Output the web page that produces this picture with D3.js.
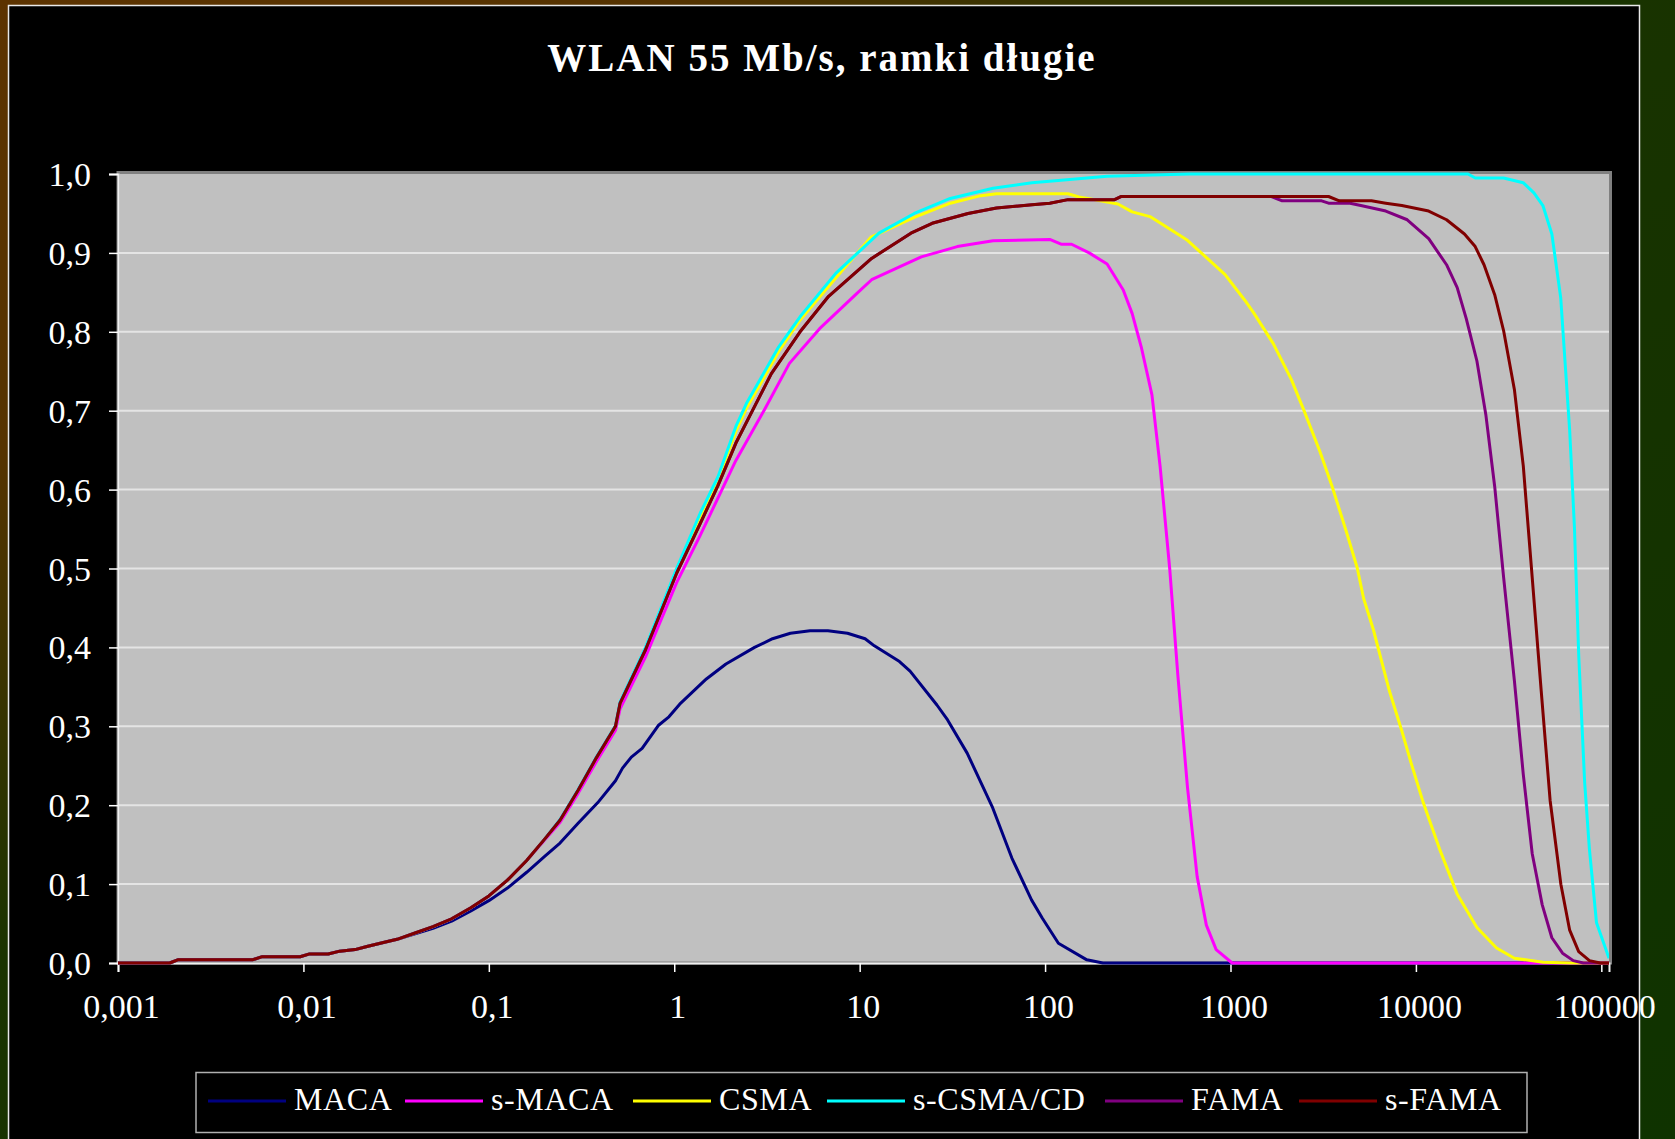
<!DOCTYPE html>
<html lang="pl">
  <head>
    <meta charset="utf-8">
    <title>WLAN 55 Mb/s, ramki długie</title>
    <style>
      body { margin: 0; background: #000; }
      svg { display: block; font-family: "Liberation Serif", "Times New Roman", serif; }
    </style>
    <script src="https://d3js.org/d3.v7.min.js"></script>
  </head>
  <body>
    <div id="viz"></div>
    <script>

    // ---- data ----
    var seriesNames = ['MACA', 's-MACA', 'CSMA', 's-CSMA/CD', 'FAMA', 's-FAMA'];
    var seriesColors = ['#000080', '#ff00ff', '#ffff00', '#00ffff', '#800080', '#800000'];

    // low end where all curves coincide
    var lowX = [0.001, 0.0019, 0.0021, 0.0053, 0.006, 0.0096, 0.0108, 0.0136, 0.0157, 0.019, 0.022, 0.027, 0.032];
    var lowY = [0, 0, 0.004, 0.004, 0.008, 0.008, 0.0115, 0.0115, 0.015, 0.017, 0.021, 0.026, 0.03];

    var macaX = [0.04, 0.05, 0.063, 0.08, 0.1, 0.126, 0.16, 0.2, 0.242, 0.303, 0.386, 0.482, 0.526, 0.587, 0.671, 0.82, 0.936, 1.07, 1.49, 1.9, 2.71, 3.39, 4.23, 5.4, 6.74, 8.6, 10.7, 12, 16.4, 18.7, 26.1, 29.8, 38, 51.9, 66.2, 84.5, 96.5, 118, 168, 205, 110000];
    var macaY = [0.037, 0.044, 0.053, 0.066, 0.079, 0.095, 0.115, 0.135, 0.152, 0.177, 0.203, 0.231, 0.247, 0.261, 0.272, 0.301, 0.312, 0.328, 0.36, 0.379, 0.4, 0.411, 0.418, 0.421, 0.421, 0.418, 0.411, 0.402, 0.382, 0.37, 0.327, 0.308, 0.266, 0.198, 0.133, 0.08, 0.057, 0.025, 0.004, 0, 0];

    var smacaX = [0.04, 0.05, 0.063, 0.08, 0.1, 0.126, 0.16, 0.2, 0.242, 0.303, 0.38, 0.482, 0.51, 0.7, 1.03, 1.38, 2.15, 3.06, 4.18, 6.08, 9.7, 11.6, 16.5, 21.5, 33.6, 52.4, 106, 122, 139, 173, 216, 264, 295, 330, 377, 417, 470, 520, 586, 661, 741, 837, 1021, 110000];
    var smacaY = [0.038, 0.046, 0.056, 0.07, 0.085, 0.105, 0.13, 0.156, 0.178, 0.215, 0.255, 0.295, 0.322, 0.388, 0.482, 0.542, 0.637, 0.701, 0.76, 0.804, 0.849, 0.866, 0.8825, 0.895, 0.908, 0.9155, 0.917, 0.911, 0.911, 0.9, 0.886, 0.853, 0.823, 0.781, 0.72, 0.63, 0.5, 0.365, 0.223, 0.1095, 0.048, 0.017, 0, 0];

    var csmaX = [0.04, 0.05, 0.063, 0.08, 0.1, 0.126, 0.16, 0.2, 0.242, 0.303, 0.38, 0.482, 0.51, 0.7, 1.03, 1.38, 1.72, 2.15, 2.45, 3.66, 4.77, 7.43, 11.5, 19.7, 30.8, 43.9, 54.7, 133, 152, 189, 247, 295, 368, 586, 935, 1194, 1334, 1701, 2125, 2483, 3029, 3533, 4225, 4823, 5225, 5888, 7192, 8398, 9380, 10965, 13389, 16711, 21331, 27218, 33986, 48500, 69200, 110000];
    var csmaY = [0.038, 0.046, 0.056, 0.07, 0.085, 0.105, 0.13, 0.157, 0.181, 0.219, 0.26, 0.3, 0.329, 0.398, 0.498, 0.566, 0.612, 0.674, 0.703, 0.775, 0.815, 0.868, 0.92, 0.945, 0.963, 0.972, 0.975, 0.975, 0.971, 0.967, 0.962, 0.952, 0.946, 0.916, 0.8725, 0.84, 0.824, 0.785, 0.74, 0.701, 0.649, 0.604, 0.546, 0.501, 0.462, 0.423, 0.345, 0.294, 0.255, 0.203, 0.145, 0.087, 0.045, 0.019, 0.006, 0.001, 0, 0];

    var scsmaX = [0.04, 0.05, 0.063, 0.08, 0.1, 0.126, 0.16, 0.2, 0.242, 0.303, 0.38, 0.482, 0.51, 0.7, 1.03, 1.38, 1.72, 2.15, 2.45, 3.66, 4.77, 7.43, 12.7, 19.7, 30.8, 52.4, 85, 122, 216, 600, 19100, 20900, 29700, 37900, 43300, 48400, 54100, 60400, 67500, 71600, 75500, 81300, 86200, 94200, 110000];
    var scsmaY = [0.038, 0.046, 0.056, 0.07, 0.085, 0.105, 0.13, 0.157, 0.182, 0.22, 0.261, 0.301, 0.331, 0.4, 0.5, 0.57, 0.616, 0.68, 0.709, 0.781, 0.819, 0.874, 0.925, 0.95, 0.969, 0.982, 0.989, 0.992, 0.997, 1, 1, 0.995, 0.995, 0.989, 0.976, 0.96, 0.924, 0.843, 0.675, 0.5525, 0.391, 0.229, 0.145, 0.051, 0.006];

    var famaX = [0.04, 0.05, 0.063, 0.08, 0.1, 0.126, 0.16, 0.2, 0.242, 0.303, 0.38, 0.482, 0.51, 0.7, 1.03, 1.38, 1.72, 2.15, 3.34, 4.77, 6.8, 11.6, 18.9, 24.6, 38.4, 54.7, 85, 106, 133, 237, 258, 1663, 1900, 3100, 3380, 4415, 5045, 6879, 8980, 11720, 14630, 16700, 18670, 21330, 23830, 26600, 29740, 33970, 37940, 42400, 47970, 54100, 61800, 70600, 80000, 110000];
    var famaY = [0.038, 0.046, 0.056, 0.07, 0.085, 0.105, 0.13, 0.157, 0.181, 0.219, 0.26, 0.3, 0.329, 0.397, 0.494, 0.557, 0.605, 0.659, 0.747, 0.8, 0.845, 0.893, 0.925, 0.9375, 0.95, 0.957, 0.961, 0.963, 0.9675, 0.9675, 0.9715, 0.9715, 0.966, 0.966, 0.963, 0.963, 0.96, 0.953, 0.942, 0.918, 0.885, 0.856, 0.817, 0.763, 0.695, 0.604, 0.488, 0.358, 0.239, 0.1385, 0.074, 0.032, 0.0124, 0.003, 0, 0];

    var sfamaX = [0.04, 0.05, 0.063, 0.08, 0.1, 0.126, 0.16, 0.2, 0.242, 0.303, 0.38, 0.482, 0.51, 0.7, 1.03, 1.38, 1.72, 2.15, 3.34, 4.77, 6.8, 11.6, 18.9, 24.6, 38.4, 54.7, 85, 106, 133, 237, 258, 3380, 3862, 5757, 6879, 8398, 11720, 14630, 18270, 20880, 23300, 26600, 29740, 33970, 37940, 42400, 47400, 52950, 60500, 67500, 75500, 86300, 98600, 110000];
    var sfamaY = [0.038, 0.046, 0.056, 0.07, 0.085, 0.105, 0.13, 0.157, 0.181, 0.219, 0.26, 0.3, 0.329, 0.397, 0.494, 0.557, 0.605, 0.659, 0.747, 0.8, 0.845, 0.893, 0.925, 0.9375, 0.95, 0.957, 0.961, 0.963, 0.9675, 0.9675, 0.9715, 0.9715, 0.966, 0.966, 0.963, 0.96, 0.953, 0.942, 0.924, 0.908, 0.885, 0.847, 0.801, 0.727, 0.63, 0.488, 0.345, 0.206, 0.0998, 0.0416, 0.0144, 0.003, 0, 0];

    var xTicks = [0.001, 0.01, 0.1, 1, 10, 100, 1000, 10000, 100000];
    var xTickLabels = ['0,001', '0,01', '0,1', '1', '10', '100', '1000', '10000', '100000'];
    var yTicks = [0, 0.1, 0.2, 0.3, 0.4, 0.5, 0.6, 0.7, 0.8, 0.9, 1.0];
    var yTickLabels = ['0,0', '0,1', '0,2', '0,3', '0,4', '0,5', '0,6', '0,7', '0,8', '0,9', '1,0'];

    var titleText = 'WLAN 55 Mb/s, ramki długie';

    // ---- layout ----
    var W = 1675, H = 1139;
    var plot = {left: 118, top: 174, right: 1609, bottom: 963};
    var legendStarts = [208, 405, 633, 827, 1105, 1299]; // left end of each legend swatch

    var svg = d3.select('#viz').append('svg')
        .attr('width', W)
        .attr('height', H);

    var defs = svg.append('defs');
    var grad = defs.append('linearGradient')
        .attr('id', 'bg')
        .attr('x1', 0).attr('y1', 0).attr('x2', 1).attr('y2', 1);
    grad.append('stop').attr('offset', 0).attr('stop-color', '#5c3300');
    grad.append('stop').attr('offset', 0.2).attr('stop-color', '#553300');
    grad.append('stop').attr('offset', 0.42).attr('stop-color', '#1a3300');
    grad.append('stop').attr('offset', 1).attr('stop-color', '#0f3300');

    defs.append('clipPath').attr('id', 'plotclip')
      .append('rect')
        .attr('x', plot.left).attr('y', plot.top - 2)
        .attr('width', plot.right - plot.left).attr('height', plot.bottom - plot.top + 4);

    svg.append('rect').attr('width', W).attr('height', H).attr('fill', 'url(#bg)');

    // black slide panel
    svg.append('rect')
        .attr('x', 8.5).attr('y', 5.5)
        .attr('width', 1631).attr('height', H + 20)
        .attr('fill', '#000')
        .attr('stroke', '#e8e8e8')
        .attr('stroke-width', 1.5);

    var x = d3.scaleLog()
        .domain([0.001, 110000])
        .range([plot.left, plot.right]);

    var y = d3.scaleLinear()
        .domain([0, 1])
        .range([plot.bottom, plot.top]);

    // plot area
    svg.append('rect')
        .attr('x', plot.left).attr('y', plot.top - 1.5)
        .attr('width', plot.right - plot.left + 1.5).attr('height', plot.bottom - plot.top + 1.5)
        .attr('fill', '#c0c0c0')
        .attr('stroke', '#808080')
        .attr('stroke-width', 3);

    // gridlines
    svg.append('g')
      .selectAll('line')
      .data(yTicks.filter(function(d) { return d > 0 && d < 1; }))
      .enter()
      .append('line')
        .attr('x1', plot.left).attr('x2', plot.right)
        .attr('y1', function(d) { return y(d); })
        .attr('y2', function(d) { return y(d); })
        .attr('stroke', '#e4e4e4')
        .attr('stroke-width', 2);

    // axes
    var yAxis = svg.append('g')
        .attr('transform', 'translate(' + plot.left + ',0)')
        .call(d3.axisLeft(y)
          .tickValues(yTicks)
          .tickFormat(function(d, i) { return yTickLabels[i]; })
          .tickSize(9)
          .tickPadding(18));

    var xAxis = svg.append('g')
        .attr('transform', 'translate(0,' + plot.bottom + ')')
        .call(d3.axisBottom(x)
          .tickValues(xTicks)
          .tickFormat(function(d, i) { return xTickLabels[i]; })
          .tickSize(9));

    [yAxis, xAxis].forEach(function(ax) {
      ax.select('.domain').attr('stroke', '#f0f0f0').attr('stroke-width', 2);
      ax.selectAll('.tick line').attr('stroke', '#ffffff').attr('stroke-width', 1.5);
      ax.selectAll('.tick text')
        .attr('fill', '#ffffff')
        .style('font-family', '"Liberation Serif", "Times New Roman", serif')
        .style('font-size', '34px');
    });
    yAxis.selectAll('.tick text').attr('dy', '0.34em');
    xAxis.selectAll('.tick text').attr('y', 55).attr('dy', 0).attr('dx', 3);

    // series
    var xs = [macaX, smacaX, csmaX, scsmaX, famaX, sfamaX];
    var ys = [macaY, smacaY, csmaY, scsmaY, famaY, sfamaY];

    var series = seriesNames.map(function(name, i) {
      var pts = [];
      lowX.forEach(function(v, j) { pts.push([v, lowY[j]]); });
      xs[i].forEach(function(v, j) { pts.push([v, ys[i][j]]); });
      return {name: name, color: seriesColors[i], values: pts};
    });

    var line = d3.line()
        .x(function(d) { return x(d[0]); })
        .y(function(d) { return y(d[1]); });

    svg.append('g')
        .attr('clip-path', 'url(#plotclip)')
      .selectAll('path')
      .data(series)
      .enter()
      .append('path')
        .attr('d', function(d) { return line(d.values); })
        .attr('fill', 'none')
        .attr('stroke', function(d) { return d.color; })
        .attr('stroke-width', 3)
        .attr('stroke-linejoin', 'round');

    // title
    svg.append('text')
        .attr('x', 822)
        .attr('y', 71)
        .attr('text-anchor', 'middle')
        .attr('fill', '#ffffff')
        .style('font-size', '39px')
        .style('font-weight', 'bold')
        .style('letter-spacing', '2px')
        .text(titleText);

    // legend
    var legend = svg.append('g');
    legend.append('rect')
        .attr('x', 196).attr('y', 1072.5)
        .attr('width', 1331).attr('height', 60)
        .attr('fill', '#000')
        .attr('stroke', '#b0b0b0')
        .attr('stroke-width', 1.5);

    var items = legend.selectAll('g.item')
      .data(series)
      .enter()
      .append('g')
        .attr('class', 'item')
        .attr('transform', function(d, i) { return 'translate(' + legendStarts[i] + ',0)'; });

    items.append('line')
        .attr('x1', 0).attr('x2', 78)
        .attr('y1', 1101).attr('y2', 1101)
        .attr('stroke', function(d) { return d.color; })
        .attr('stroke-width', 3);

    items.append('text')
        .attr('x', 86)
        .attr('y', 1110)
        .attr('fill', '#ffffff')
        .style('font-size', '32px')
        .style('letter-spacing', '0.6px')
        .text(function(d) { return d.name; });

    </script>
  </body>
</html>
